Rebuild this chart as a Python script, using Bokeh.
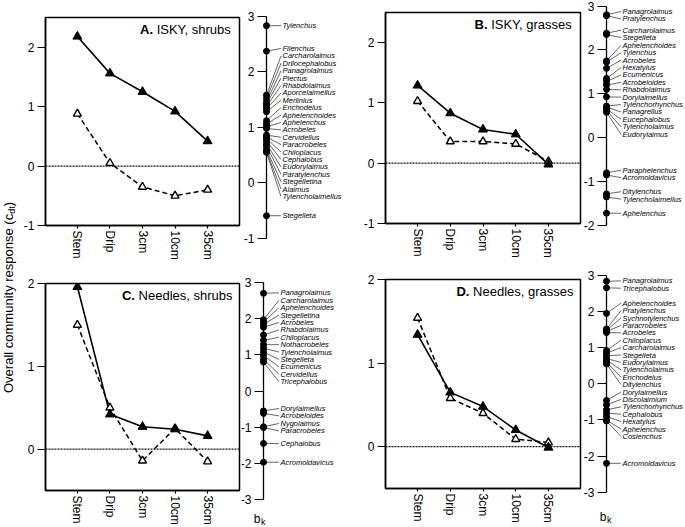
import math
from bokeh.plotting import figure
from bokeh.models import (ColumnDataSource, FactorRange, Range1d, LinearAxis,
                          FixedTicker, Span, Label)
from bokeh.layouts import row, column
from bokeh.embed import file_html
from bokeh.resources import INLINE
from bokeh.core.properties import value

FONT = "Liberation Sans"

# ------------------------------------------------------------------ data
positions = ["Stem", "Drip", "3cm", "10cm", "35cm"]

a_solid = [2.18, 1.56, 1.25, 0.92, 0.42]
a_dashed = [0.88, 0.05, -0.35, -0.50, -0.40]
b_solid = [1.29, 0.83, 0.56, 0.48, -0.02]
b_dashed = [1.03, 0.36, 0.36, 0.32, 0.03]
c_solid = [1.96, 0.42, 0.27, 0.24, 0.16]
c_dashed = [1.50, 0.50, -0.14, 0.25, -0.15]
d_solid = [1.34, 0.65, 0.48, 0.20, -0.01]
d_dashed = [1.54, 0.58, 0.40, 0.09, 0.05]

taxa_a = ["Tylenchus", "Filenchus", "Carcharolaimus", "Drilocephalobus", "Panagrolaimus",
          "Plectus", "Rhabdolaimus", "Aporcelaimellus", "Merlinius", "Enchodelus",
          "Aphelenchoides", "Aphelenchus", "Acrobeles", "Cervidellus", "Paracrobeles",
          "Chiloplacus", "Cephalobus", "Eudorylaimus", "Paratylenchus", "Stegelletina",
          "Alaimus", "Tylencholaimellus", "Stegelleta"]
bk_a = [2.83, 2.37, 1.58, 1.52, 1.46, 1.42, 1.38, 1.33, 1.28, 1.12, 1.06, 1.01, 0.98,
        0.86, 0.83, 0.80, 0.76, 0.70, 0.66, 0.60, 0.57, 0.55, -0.59]

taxa_b = ["Panagrolaimus", "Pratylenchus", "Carcharolaimus", "Stegelleta", "Aphelenchoides",
          "Tylenchus", "Acrobeles", "Hexatylus", "Ecumenicus", "Acrobeloides", "Rhabdolaimus",
          "Dorylaimellus", "Tylenchorhynchus", "Panagrellus", "Eucephalobus", "Tylencholaimus",
          "Eudorylaimus", "Paraphelenchus", "Acromoldavicus", "Ditylenchus",
          "Tylencholaimellus", "Aphelenchus"]
bk_b = [2.80, 2.78, 2.38, 2.35, 1.75, 1.72, 1.58, 1.35, 1.28, 1.20, 1.10, 0.93, 0.72, 0.70,
        0.66, 0.62, 0.58, -0.80, -0.85, -1.28, -1.35, -1.72]

taxa_c = ["Panagrolaimus", "Carcharolaimus", "Aphelenchoides", "Stegelletina", "Acrobeles",
          "Rhabdolaimus", "Chiloplacus", "Nothacrobeles", "Tylencholaimus", "Stegelleta",
          "Ecumenicus", "Cervidellus", "Tricephalobus", "Dorylaimellus", "Acrobeloides",
          "Nygolaimus", "Paracrobeles", "Cephalobus", "Acromoldavicus"]
bk_c = [2.70, 1.97, 1.90, 1.84, 1.76, 1.55, 1.40, 1.28, 1.18, 1.08, 0.98, 0.88, 0.80,
        -0.55, -0.62, -0.99, -1.01, -1.45, -1.97]

taxa_d = ["Panagrolaimus", "Tricephalobus", "Aphelenchoides", "Pratylenchus", "Sychnotylenchus",
          "Paracrobeles", "Acrobeles", "Chiloplacus", "Carcharolaimus", "Stegelleta",
          "Eudorylaimus", "Tylencholaimus", "Enchodelus", "Ditylenchus", "Dorylaimellus",
          "Discolaimium", "Tylenchorhynchus", "Cephalobus", "Hexatylus", "Aphelenchus",
          "Coslenchus", "Acromoldavicus"]
bk_d = [2.84, 2.66, 1.95, 1.52, 1.48, 1.45, 1.42, 0.92, 0.85, 0.78, 0.70, 0.66, 0.60, 0.55,
        -0.46, -0.58, -0.72, -0.81, -0.90, -1.00, -1.03, -2.20]

# ------------------------------------------------------------------ helpers
_W = dict(zip(" (),-.0123456789", [278, 333, 333, 278, 333, 278] + [556] * 10))
_W.update(dict(zip("ABCDEFGHIJKLMNOPQRSTUVWXYZ",
                   [667, 667, 722, 722, 667, 611, 778, 722, 278, 500, 667, 556, 833, 722, 778,
                    667, 778, 722, 667, 611, 722, 667, 944, 667, 667, 611])))
_W.update(dict(zip("abcdefghijklmnopqrstuvwxyz",
                   [556, 556, 500, 556, 556, 278, 556, 556, 222, 222, 500, 222, 833, 556, 556,
                    556, 556, 333, 500, 278, 556, 500, 722, 500, 500, 500])))
_WB = {"A": 722, "B": 722, "C": 722, "D": 722, ".": 278}


def text_w(s, size, bold=False):
    return sum((_WB if bold else _W).get(ch, _W.get(ch, 556)) for ch in s) * size / 1000.0


def spread(vals, gap):
    order = sorted(range(len(vals)), key=lambda i: -vals[i])
    clusters = [[i] for i in order]

    def center(c):
        return sum(vals[i] for i in c) / len(c)

    changed = True
    while changed:
        changed = False
        for k in range(len(clusters) - 1):
            c1, c2 = clusters[k], clusters[k + 1]
            bot1 = center(c1) - (len(c1) - 1) / 2 * gap
            top2 = center(c2) + (len(c2) - 1) / 2 * gap
            if bot1 - top2 < gap:
                clusters[k] = c1 + c2
                del clusters[k + 1]
                changed = True
                break
    pos = [0.0] * len(vals)
    for c in clusters:
        m = center(c)
        for j, i in enumerate(c):
            pos[i] = m + ((len(c) - 1) / 2 - j) * gap
    return pos


def style_axis(ax, tick_out, standoff):
    ax.major_tick_out = tick_out
    ax.major_tick_in = 0
    ax.minor_tick_out = 0
    ax.minor_tick_in = 0
    ax.major_label_standoff = standoff
    ax.axis_line_color = "black"
    ax.axis_line_width = 1.5
    ax.major_tick_line_color = "black"
    ax.major_tick_line_width = 1.2
    ax.major_label_text_font = FONT
    ax.major_label_text_font_size = "12px"
    ax.major_label_text_color = "black"


PAD = 0.48


def main_panel(solid, dashed, ylo, yhi, yticks, letter, rest, width, height,
               left, top, bottom):
    p = figure(x_range=FactorRange(factors=positions, range_padding=PAD,
                                   range_padding_units="absolute"),
               y_range=Range1d(ylo, yhi), width=width, height=height,
               min_border_left=left, min_border_right=2, min_border_top=top,
               min_border_bottom=bottom, toolbar_location=None, output_backend="svg")
    p.xgrid.visible = False
    p.ygrid.visible = False
    p.outline_line_color = "black"
    p.outline_line_width = 1.5

    ya = p.yaxis[0]
    ya.ticker = FixedTicker(ticks=yticks, minor_ticks=[])
    ya.major_label_overrides = {t: str(t) for t in yticks}
    style_axis(ya, 8, 3)
    xa = p.xaxis[0]
    xa.major_label_orientation = "vertical"
    style_axis(xa, 3, 2)

    p.add_layout(Span(location=0, dimension="width", line_color="#111111",
                      line_width=1.2, line_dash="2 1"))
    src = ColumnDataSource(dict(pos=positions, solid=solid, dashed=dashed))
    p.line("pos", "dashed", source=src, line_color="black", line_width=1.5, line_dash="5 3")
    p.line("pos", "solid", source=src, line_color="black", line_width=1.6)
    p.scatter("pos", "dashed", source=src, marker="triangle", size=8, fill_color="white",
              line_color="black", line_width=1.4)
    p.scatter("pos", "solid", source=src, marker="triangle", size=9, fill_color="black",
              line_color="black")

    xr = len(positions) + PAD
    wl = text_w(letter, 13, bold=True)
    ws = text_w(" ", 13)
    wr = text_w(rest, 13)
    start = -7 - (wl + ws + wr)
    p.add_layout(Label(x=xr, y=yhi, x_offset=start, y_offset=-12, text=letter,
                       text_align="left", text_baseline="middle", text_font=FONT,
                       text_font_size="13px", text_font_style="bold", text_color="black"))
    p.add_layout(Label(x=xr, y=yhi, x_offset=start + wl + ws, y_offset=-12, text=rest,
                       text_align="left", text_baseline="middle", text_font=FONT,
                       text_font_size="13px", text_color="black"))
    return p


def side_panel(taxa, bk, lo, hi, top_px, bot_px, height, width, axis_px, label_dx,
               bk_dx=None, bk_dy=None):
    ppu = (bot_px - top_px) / (hi - lo)
    y_end = hi + top_px / ppu
    y_start = lo - (height - bot_px) / ppu
    p = figure(width=width, height=height, x_range=Range1d(-axis_px, width - axis_px),
               y_range=Range1d(y_start, y_end), x_axis_type=None, y_axis_type=None,
               toolbar_location=None, output_backend="svg", min_border=0,
               outline_line_color=None)
    ticks = list(range(int(lo), int(hi) + 1))
    ax = LinearAxis(fixed_location=0, bounds=(lo, hi),
                    ticker=FixedTicker(ticks=ticks, minor_ticks=[]))
    ax.major_label_overrides = {t: str(t) for t in ticks}
    style_axis(ax, 9, 3)
    ax.axis_line_width = 1.3
    p.add_layout(ax, "left")

    n = len(taxa)
    ly = spread(bk, 7.4 / ppu)
    src = ColumnDataSource(dict(taxon=taxa, bk=bk, ly=ly, ax=[0.0] * n,
                                lx=[label_dx] * n, lx0=[label_dx - 1.5] * n))
    p.segment(x0="ax", y0="bk", x1="lx0", y1="ly", source=src, line_color="black",
              line_width=0.6)
    p.scatter("ax", "bk", source=src, size=6, fill_color="black", line_color="black")
    p.text("lx", "ly", text="taxon", source=src, text_font=value(FONT),
           text_font_style="italic", text_font_size="7.5px", text_baseline="middle",
           text_align="left", text_color="black")
    if bk_dy is not None:
        p.text(x=[bk_dx], y=[lo], text=["b"], y_offset=bk_dy, text_font=value(FONT),
               text_font_size="12px", text_align="center", text_baseline="middle",
               text_color="black")
        p.text(x=[bk_dx + 4], y=[lo], text=["k"], y_offset=bk_dy + 3, text_font=value(FONT),
               text_font_size="9px", text_align="left", text_baseline="middle",
               text_color="black")
    return p


# ------------------------------------------------------------------ panels
pA = main_panel(a_solid, a_dashed, -1, 2.5, [-1, 0, 1, 2], "A.", "ISKY, shrubs",
                221, 262, 24, 17, 35)
pC = main_panel(c_solid, c_dashed, -0.5, 2, [0, 1, 2], "C.", "Needles, shrubs",
                221, 265, 24, 21, 37)
pB = main_panel(b_solid, b_dashed, -1, 2.5, [-1, 0, 1, 2], "B.", "ISKY, grasses",
                222, 262, 25, 12, 39)
pD = main_panel(d_solid, d_dashed, -0.5, 2, [0, 1, 2], "D.", "Needles, grasses",
                222, 265, 25, 17, 39)

sA = side_panel(taxa_a, bk_a, -1, 3, 15.7, 238, 262, 119, 25, 16)
sC = side_panel(taxa_c, bk_c, -3, 3, 20, 237, 265, 119, 22, 17, -6.5, 19)
sB = side_panel(taxa_b, bk_b, -2, 3, 5.5, 225, 262, 103, 24, 16)
sD = side_panel(taxa_d, bk_d, -3, 3, 13, 229.7, 265, 103, 24, 16, -3.5, 25)

# y title
TH = 527
TW = 20
t = figure(width=TW, height=TH, x_range=Range1d(0, TW), y_range=Range1d(TH, 0),
           x_axis_type=None, y_axis_type=None, toolbar_location=None, output_backend="svg",
           min_border=0, outline_line_color=None)
p1, p2, p3 = "Overall community response (c", "dt", ")"
w1, w2, w3 = text_w(p1, 13), text_w(p2, 9), text_w(p3, 13)
cy = 297
y0 = cy + (w1 + w2 + w3) / 2
t.text(x=[8], y=[y0], text=[p1], angle=math.pi / 2, text_font=value(FONT),
       text_font_size="13px", text_align="left", text_baseline="middle", text_color="black")
t.text(x=[11], y=[y0 - w1], text=[p2], angle=math.pi / 2, text_font=value(FONT),
       text_font_size="9px", text_align="left", text_baseline="middle", text_color="black")
t.text(x=[8], y=[y0 - w1 - w2], text=[p3], angle=math.pi / 2, text_font=value(FONT),
       text_font_size="13px", text_align="left", text_baseline="middle", text_color="black")

layout = row(t, column(pA, pC), column(sA, sC), column(pB, pD), column(sB, sD))

open("out.html", "w").write(file_html(layout, INLINE))
